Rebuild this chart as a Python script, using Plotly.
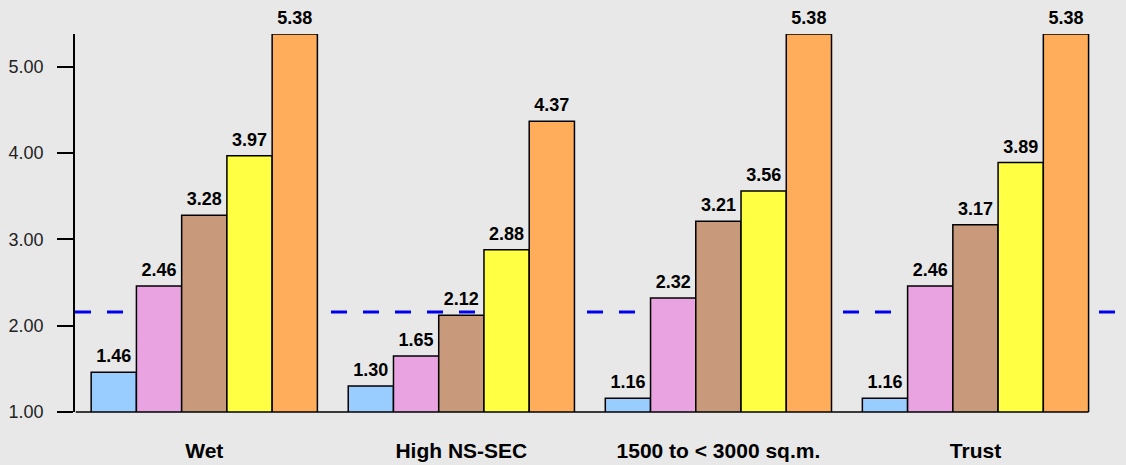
import plotly.graph_objects as go

categories = ["Wet", "High NS-SEC", "1500 to < 3000 sq.m.", "Trust"]
series_names = ["S1", "S2", "S3", "S4", "S5"]
s1 = [1.46, 1.30, 1.16, 1.16]
s2 = [2.46, 1.65, 2.32, 2.46]
s3 = [3.28, 2.12, 3.21, 3.17]
s4 = [3.97, 2.88, 3.56, 3.89]
s5 = [5.38, 4.37, 5.38, 5.38]
reference_value = 2.16
y_ticks = [1, 2, 3, 4, 5]
y_range = [1, 5.38]

colors = ["#99CCFF", "#E8A3E0", "#C89A7B", "#FFFF44", "#FFAD5B"]
series = [s1, s2, s3, s4, s5]
BARGAP = 0.12

fig = go.Figure()
for name, vals, col in zip(series_names, series, colors):
    fig.add_trace(go.Bar(
        x=categories, y=vals, name=name, offsetgroup=name,
        marker=dict(color=col, line=dict(color="black", width=1.5)),
        base=0,
    ))
for name, vals in zip(series_names, series):
    fig.add_trace(go.Scatter(
        x=categories, y=vals, name=name + " labels", offsetgroup=name,
        mode="markers+text",
        marker=dict(size=7, opacity=0),
        text=[f"{v:.2f}" for v in vals],
        textposition="top center",
        textfont=dict(family="Arial", size=18, color="black", weight="bold"),
        cliponaxis=False, hoverinfo="skip",
    ))

fig.add_shape(type="line", xref="paper", yref="y", x0=0, x1=1.0126,
              y0=reference_value, y1=reference_value,
              line=dict(color="#0000EE", width=3, dash="16px,16px"),
              layer="below")
# x-axis baseline from the y axis to the right edge of the last bar group
fig.add_shape(type="line", xref="x", yref="paper", x0=-0.5,
              x1=len(categories) - 1 + (1 - BARGAP) / 2,
              y0=0, y1=0, line=dict(color="black", width=1.5), layer="above")

fig.update_layout(
    width=1126, height=465,
    margin=dict(l=75, r=22, t=34, b=53),
    paper_bgcolor="#E8E8E8", plot_bgcolor="#E8E8E8",
    barmode="group", bargap=BARGAP, bargroupgap=0,
    scattermode="group", scattergap=BARGAP,
    showlegend=False,
    font=dict(family="Arial", color="black"),
    xaxis=dict(showline=False, ticks="", showgrid=False, automargin=False,
               tickfont=dict(family="Arial", size=21, color="black", weight="bold"),
               ticklabelstandoff=24),
    yaxis=dict(range=y_range, showline=True, linecolor="black", linewidth=1.5,
               ticks="outside", ticklen=16, tickcolor="black", tickwidth=1.5,
               tickvals=y_ticks, tickformat=".2f", showgrid=False, zeroline=False,
               automargin=False, ticklabelstandoff=10,
               tickfont=dict(family="Arial", size=18, color="#222222")),
)

fig.write_html(
    "out.html",
    config={"displayModeBar": False},
    post_script="document.body.style.margin='0';document.body.style.overflow='hidden';"
                "document.body.style.background='#E8E8E8';",
)
